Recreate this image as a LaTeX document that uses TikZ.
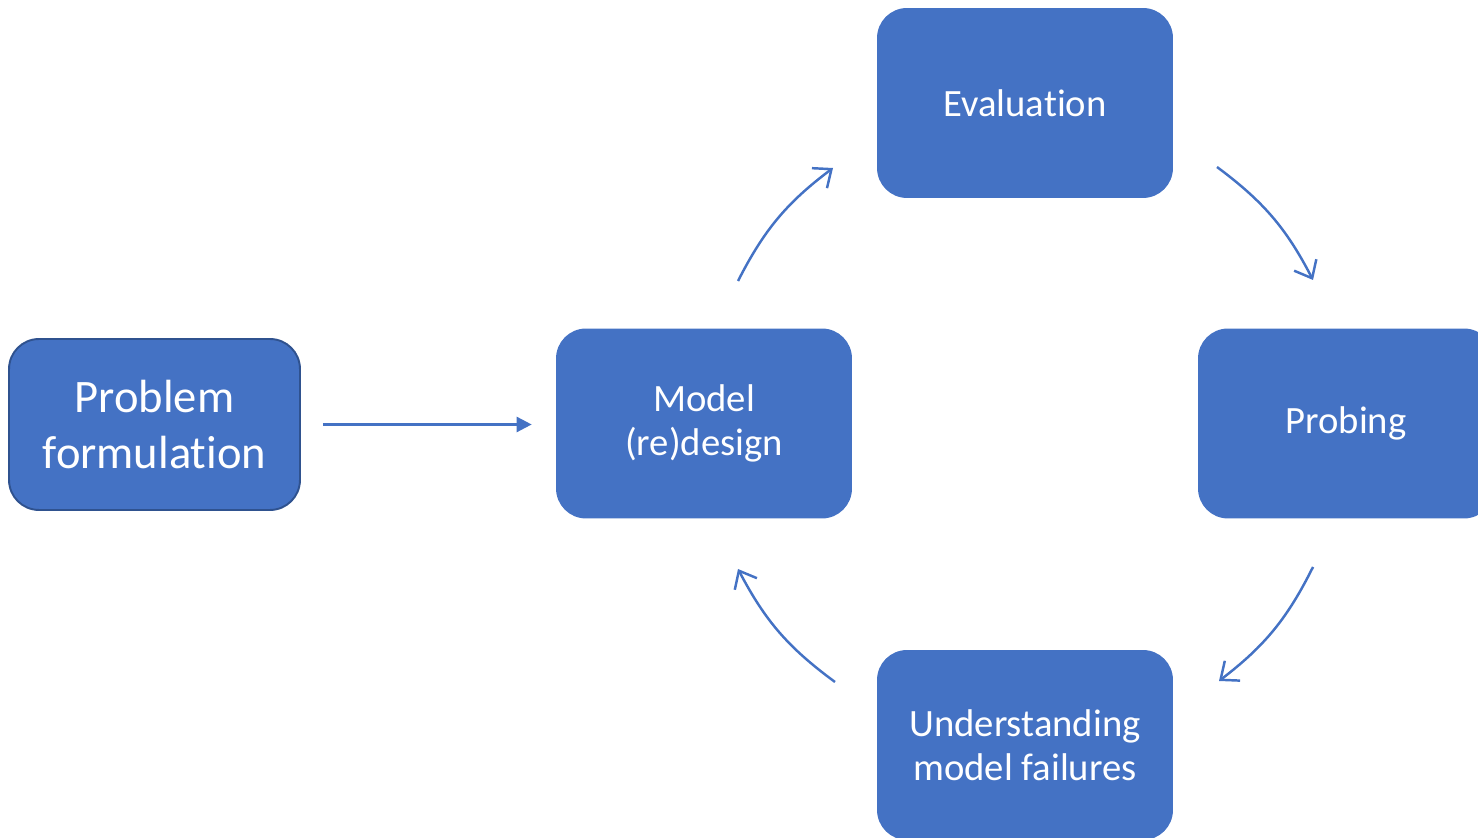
\documentclass[tikz,border=0pt]{standalone}
\usepackage{fontspec}
\setmainfont{Carlito}[RawFeature={-liga;-clig;-calt;-dlig}]
\usetikzlibrary{arrows.meta}
\definecolor{boxblue}{HTML}{4472C4}
\definecolor{edgeblue}{HTML}{2F528F}
\tikzset{
  stage/.style={rectangle, rounded corners=0.6cm, fill=boxblue, text=white,
    minimum width=5.92cm, minimum height=3.8cm, align=center,
    font=\fontsize{22}{25}\selectfont},
  cycle/.style={draw=boxblue, line width=1.4pt,
    -{Straight Barb[length=0.3cm, width=0.5cm, line width=1.4pt]}, bend left=13},
}
\begin{document}
\begin{tikzpicture}[x=0.02cm, y=0.02cm]
    \clip (0,0) rectangle (1478,838);
    \node[stage, draw=edgeblue, line width=1.1pt, minimum width=5.82cm, minimum height=3.42cm,
      font=\fontsize{26.5}{32}\selectfont] (prob) at (154.5,413.5) {Problem\\formulation};
    \node[stage] (model) at (704,414.5) {Model\\(re)design};
    \node[stage] (eval) at (1025,735) {Evaluation};
    \node[stage] (probe) at (1346,414.5) {Probing};
    \node[stage] (fail) at (1025,93) {Understanding\\model failures};

    \draw[boxblue, line width=1.4pt, -{Triangle[length=0.3cm, width=0.3cm]},
      shorten <=0.44cm, shorten >=0.48cm] (prob.east) -- (model.west |- prob.east);

    \coordinate (m1) at (738,557);
    \coordinate (e1) at (833,670);
    \coordinate (e2) at (1217,671);
    \coordinate (p1) at (1313,558);
    \coordinate (p2) at (1313,271);
    \coordinate (f1) at (1219,157);
    \coordinate (f2) at (835,156);
    \coordinate (m2) at (738,269);
    \draw[cycle] (m1) to (e1);
    \draw[cycle] (e2) to (p1);
    \draw[cycle] (p2) to (f1);
    \draw[cycle] (f2) to (m2);
\end{tikzpicture}
\end{document}
